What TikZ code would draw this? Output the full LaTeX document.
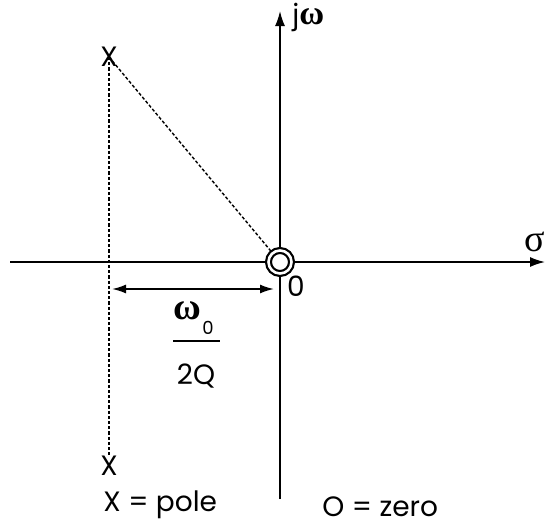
\documentclass[tikz,border=0pt]{standalone}
\usepackage{fontspec}
\setmainfont{Poppins}
\newfontfamily\greekfont{Liberation Serif}
\usetikzlibrary{arrows.meta, positioning}

\begin{document}
\begin{tikzpicture}[
  x=0.5pt, y=-0.5pt,
  every node/.style={font=\fontsize{14}{16}\selectfont, inner sep=0pt},
  axis/.style={line width=0.8pt, -{Latex[length=7.5pt, width=5pt]}},
  guide/.style={line width=0.7pt, dash pattern=on 1.6pt off 1pt},
  dim/.style={line width=0.9pt, {Latex[length=7pt, width=4.5pt]}-{Latex[length=7pt, width=4.5pt]}},
  zero/.style={circle, draw, line width=1.1pt, double, double distance=1.3pt,
    minimum size=11.5pt, fill=white},
  greek/.style={font=\fontsize{19}{20}\greekfont\bfseries},
]
  \useasboundingbox (0,0) rectangle (546,525);
  % axes
  \coordinate (origin) at (280,262);
  \coordinate (sigma start) at (10,262);
  \coordinate (sigma end) at (545,262);
  \coordinate (jw start) at (280,499);
  \coordinate (jw end) at (280,11);
  \draw[axis] (sigma start) -- (sigma end);
  \draw[axis] (jw start) -- (jw end);
  \node[font=\fontsize{19}{20}\greekfont, anchor=east] (sigma) at (545,242) {σ};
  \node[anchor=west] (jw) at (292,17) {j{\greekfont\bfseries\fontsize{17}{18}\selectfont ω}};
  % poles and zero
  \node (p1) at (109,57) {X};
  \node (p2) at (109,466) {X};
  \draw[guide] (p1.center) -- (p2.north);
  \node[zero] (z) at (origin) {};
  \draw[guide] (p1.center) -- (z);
  \node (z label) at (296,286) {0};
  % distance omega_0 / 2Q
  \coordinate (dim left) at (112,289);
  \coordinate (dim right) at (274,289);
  \draw[dim] (dim left) -- (dim right);
  \node[greek] (num) at (187,311) {ω};
  \node[font=\fontsize{9}{10}\selectfont] (num sub) at (208,328) {0};
  \coordinate (bar left) at (173,341);
  \coordinate (bar right) at (220,341);
  \draw[line width=0.8pt] (bar left) -- (bar right);
  \node (den) at (196,376) {2Q};
  % key
  \node[anchor=west] (pole key) at (103,505) {X = pole};
  \node[anchor=west] (zero key) at (322,507) {O = zero};
\end{tikzpicture}
\end{document}
